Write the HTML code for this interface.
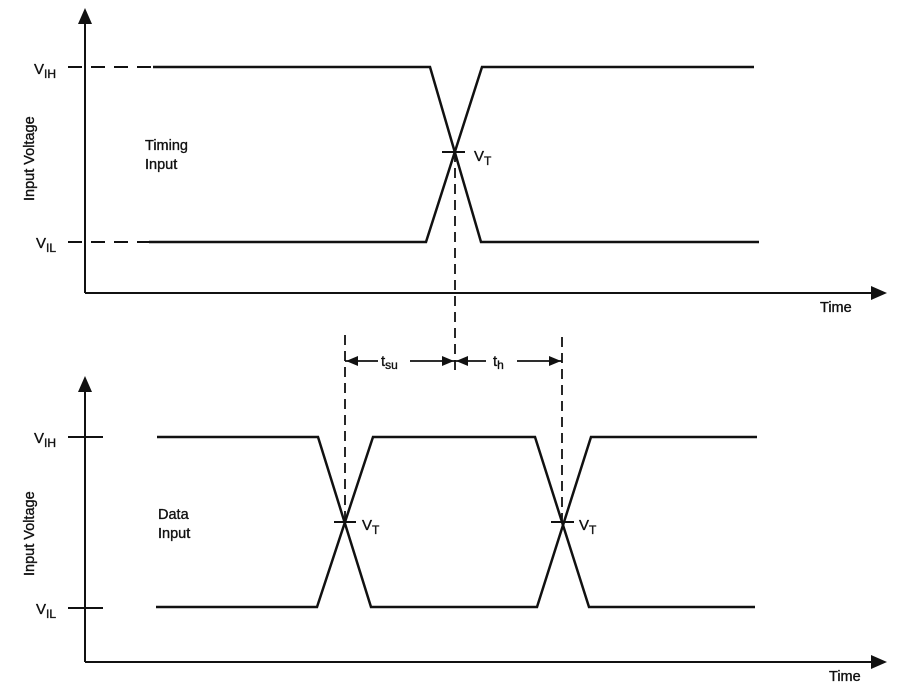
<!DOCTYPE html>
<html><head><meta charset="utf-8"><style>
html,body{margin:0;padding:0;background:#fff;}
svg{display:block;}
text{font-family:"Liberation Sans",Arial,sans-serif;fill:#111;stroke:#111;stroke-width:0.35;}
</style></head><body>
<svg width="904" height="694" viewBox="0 0 904 694" xmlns="http://www.w3.org/2000/svg">
<g stroke="#111" fill="none" stroke-width="2">
<line x1="85" y1="22" x2="85" y2="293"/>
<line x1="85" y1="293" x2="874" y2="293"/>
<line x1="68" y1="67" x2="152" y2="67" stroke-dasharray="14,9"/>
<line x1="68" y1="242" x2="150" y2="242" stroke-dasharray="14,9"/>
<polyline points="153,67 430,67 481,242 759,242" stroke-width="2.5"/>
<polyline points="149,242 426,242 482,67 754,67" stroke-width="2.5"/>
<line x1="442" y1="152" x2="465" y2="152"/>
<line x1="85" y1="390" x2="85" y2="662"/>
<line x1="85" y1="662" x2="874" y2="662"/>
<line x1="68" y1="437" x2="103" y2="437"/>
<line x1="68" y1="608" x2="103" y2="608"/>
<polyline points="157,437 318,437 371,607 537,607 591,437 757,437" stroke-width="2.5"/>
<polyline points="156,607 317,607 373,437 535,437 589,607 755,607" stroke-width="2.5"/>
<line x1="334" y1="522" x2="356" y2="522"/>
<line x1="551" y1="522" x2="574" y2="522"/>
<line x1="455" y1="152" x2="455" y2="375" stroke-dasharray="10,6" stroke-width="1.8"/>
<line x1="345" y1="335" x2="345" y2="522" stroke-dasharray="10,6" stroke-width="1.8"/>
<line x1="562" y1="337" x2="562" y2="522" stroke-dasharray="10,6" stroke-width="1.8"/>
<line x1="345" y1="361" x2="378" y2="361" stroke-width="1.8"/>
<line x1="410" y1="361" x2="455" y2="361" stroke-width="1.8"/>
<line x1="455" y1="361" x2="486" y2="361" stroke-width="1.8"/>
<line x1="517" y1="361" x2="562" y2="361" stroke-width="1.8"/>
</g>
<g fill="#111">
<polygon points="85,8 78,24 92,24"/>
<polygon points="887,293 871,286 871,300"/>
<polygon points="85,376 78,392 92,392"/>
<polygon points="887,662 871,655 871,669"/>
<polygon points="346,361 358,356 358,366"/>
<polygon points="454,361 442,356 442,366"/>
<polygon points="456,361 468,356 468,366"/>
<polygon points="561,361 549,356 549,366"/>
</g>
<text x="34" y="74" font-size="15">V<tspan font-size="12" dy="4">IH</tspan></text>
<text x="36" y="248" font-size="15">V<tspan font-size="12" dy="4">IL</tspan></text>
<text x="34" y="443" font-size="15">V<tspan font-size="12" dy="4">IH</tspan></text>
<text x="36" y="614" font-size="15">V<tspan font-size="12" dy="4">IL</tspan></text>
<text font-size="14.5" transform="translate(34,201) rotate(-90)">Input Voltage</text>
<text font-size="14.5" transform="translate(34,576) rotate(-90)">Input Voltage</text>
<text x="145" y="150" font-size="14.5">Timing</text>
<text x="145" y="169" font-size="14.5">Input</text>
<text x="158" y="519" font-size="14.5">Data</text>
<text x="158" y="538" font-size="14.5">Input</text>
<text x="474" y="161" font-size="15">V<tspan font-size="12" dy="4">T</tspan></text>
<text x="362" y="530" font-size="15">V<tspan font-size="12" dy="4">T</tspan></text>
<text x="579" y="530" font-size="15">V<tspan font-size="12" dy="4">T</tspan></text>
<text x="381" y="366" font-size="15">t<tspan font-size="12" dy="3">su</tspan></text>
<text x="493" y="366" font-size="15">t<tspan font-size="12" dy="3">h</tspan></text>
<text x="820" y="312" font-size="14.5">Time</text>
<text x="829" y="681" font-size="14.5">Time</text>
</svg>
</body></html>
